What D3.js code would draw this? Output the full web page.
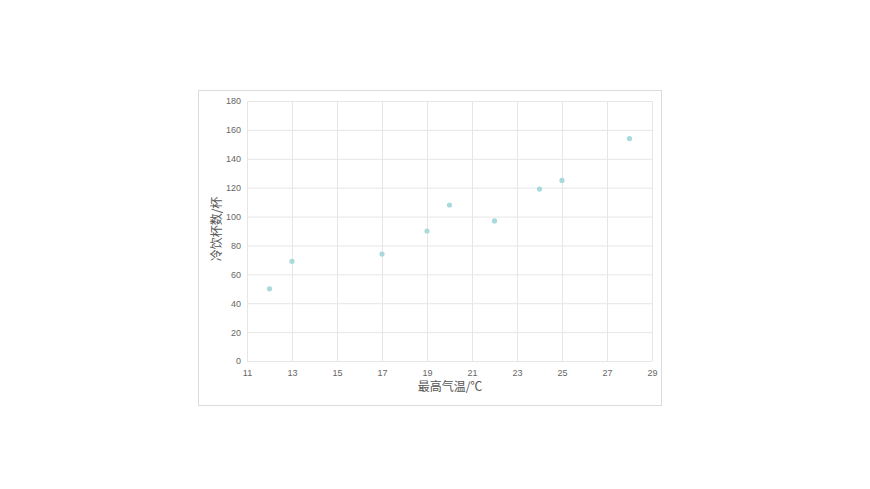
<!DOCTYPE html>
<html>
<head>
<meta charset="utf-8">
<script src="https://cdn.jsdelivr.net/npm/d3@7"></script>
<style>
  body { margin: 0; background: #fff; }
  text { font-family: "Liberation Sans", Arial, sans-serif; }
</style>
</head>
<body>
<script>
// chart data
var temps = [12, 13, 17, 19, 20, 22, 24, 25, 28];
var cups = [50, 69, 74, 90, 108, 97, 119, 125, 154];
var xTicks = [11, 13, 15, 17, 19, 21, 23, 25, 27, 29];
var yTicks = [0, 20, 40, 60, 80, 100, 120, 140, 160, 180];
var xTitle = "最高气温/℃";
var yTitle = "冷饮杯数/杯";

var svg = d3.select("body")
            .append("svg")
            .attr("width", 870)
            .attr("height", 489);

// outer frame
svg.append("rect")
   .attr("x", 198.5).attr("y", 90.5)
   .attr("width", 463).attr("height", 315)
   .attr("fill", "#fff")
   .attr("stroke", "#dcdcdc");

var x = d3.scaleLinear().domain([11, 29]).range([247, 652]);
var y = d3.scaleLinear().domain([0, 180]).range([361, 101]);

// grid
svg.append("g").selectAll("line")
   .data(xTicks).enter()
   .append("line")
   .attr("x1", function(d) { return x(d) + 0.5; })
   .attr("x2", function(d) { return x(d) + 0.5; })
   .attr("y1", y(180)).attr("y2", y(0))
   .attr("stroke", "#e6e6e6");

svg.append("g").selectAll("line")
   .data(yTicks).enter()
   .append("line")
   .attr("y1", function(d) { return y(d) + 0.5; })
   .attr("y2", function(d) { return y(d) + 0.5; })
   .attr("x1", x(11)).attr("x2", x(29))
   .attr("stroke", "#e6e6e6");

// axes
var xAxis = svg.append("g")
   .attr("transform", "translate(0," + (y(0) + 0.5) + ")")
   .call(d3.axisBottom(x).tickValues(xTicks).tickSize(0).tickPadding(8));
var yAxis = svg.append("g")
   .attr("transform", "translate(" + (x(11) - 5) + ",0)")
   .call(d3.axisLeft(y).tickValues(yTicks).tickSize(0).tickPadding(1));

[xAxis, yAxis].forEach(function(a) {
  a.select(".domain").remove();
  a.selectAll("text").attr("fill", "#666").style("font-size", "9px");
});

// axis titles
svg.append("text")
   .attr("x", 450).attr("y", 391)
   .attr("text-anchor", "middle")
   .attr("fill", "#555")
   .style("font-family", "'Noto Sans CJK SC', sans-serif")
   .style("font-size", "12px")
   .text(xTitle);

svg.append("text")
   .attr("transform", "translate(221,229) rotate(-90)")
   .attr("text-anchor", "middle")
   .attr("fill", "#555")
   .style("font-family", "'Noto Sans CJK SC', sans-serif")
   .style("font-size", "12px")
   .text(yTitle);

// points
svg.append("g").selectAll("circle")
   .data(temps).enter()
   .append("circle")
   .attr("cx", function(d) { return x(d); })
   .attr("cy", function(d, i) { return y(cups[i]); })
   .attr("r", 2.6)
   .attr("fill", "#a8d9db");
</script>
</body>
</html>
